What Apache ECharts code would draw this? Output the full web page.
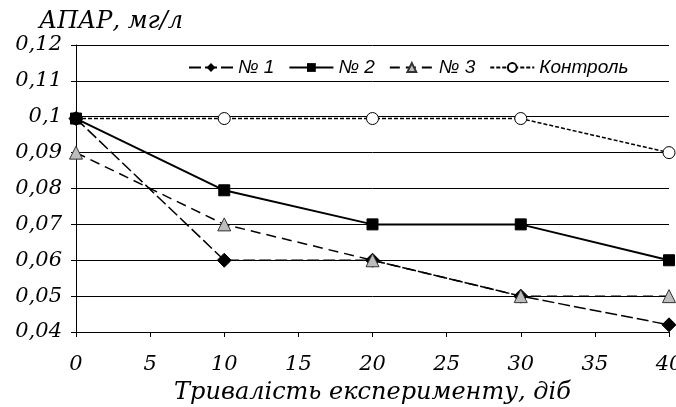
<!DOCTYPE html>
<html><head><meta charset="utf-8">
<script src="https://cdn.jsdelivr.net/npm/echarts@6/dist/echarts.min.js"></script>
<style>html,body{margin:0;padding:0;background:#fff}#c{width:676px;height:407px}</style>
</head><body><div id="c"></div>
<script>
const days = [0, 10, 20, 30, 40];
const names = ['№ 1', '№ 2', '№ 3', 'Контроль'];
const s1 = [0.0995, 0.06, 0.06, 0.05, 0.042];
const s2 = [0.0995, 0.0795, 0.07, 0.07, 0.06];
const s3 = [0.09, 0.07, 0.06, 0.05, 0.05];
const sc = [0.0995, 0.0995, 0.0995, 0.0995, 0.09];
const yTitle = 'АПАР, мг/л';
const xTitle = 'Тривалість експерименту, дiб';

const pairs = a => days.map((d, i) => [d, a[i]]);
const serif = 'DejaVu Serif';
const chart = echarts.init(document.getElementById('c'));
chart.setOption({
  animation: false,
  backgroundColor: '#fff',
  grid: { left: 76, right: 7, top: 45, bottom: 75, outerBoundsMode: 'none', containLabel: false },
  legend: {
    data: names, left: 183, top: 53, itemWidth: 44, itemHeight: 11, itemGap: 14,
    textStyle: { fontFamily: 'Liberation Sans', fontStyle: 'italic', fontSize: 19, color: '#000' }
  },
  xAxis: {
    type: 'value', min: 0, max: 40, interval: 5,
    name: xTitle, nameLocation: 'middle', nameGap: 49,
    nameTextStyle: { fontFamily: serif, fontStyle: 'italic', fontSize: 24, color: '#000' },
    axisLine: { lineStyle: { color: '#000', width: 1 } },
    axisTick: { show: true, length: 5, lineStyle: { color: '#000' } },
    axisLabel: { fontFamily: serif, fontStyle: 'italic', fontSize: 21, color: '#000', margin: 22 },
    splitLine: { show: false }
  },
  yAxis: {
    type: 'value', min: 0.04, max: 0.12, interval: 0.01,
    name: yTitle, nameLocation: 'end', nameGap: 11,
    nameTextStyle: { fontFamily: serif, fontStyle: 'italic', fontSize: 24, color: '#000', align: 'left', padding: [0, 0, 0, -37] },
    axisLine: { show: true, lineStyle: { color: '#000', width: 1 } },
    axisTick: { show: true, length: 5, lineStyle: { color: '#000' } },
    axisLabel: { fontFamily: serif, fontStyle: 'italic', fontSize: 21, color: '#000', margin: 14,
      formatter: v => String(Math.round(v * 100) / 100).replace('.', ',') },
    splitLine: { show: true, lineStyle: { color: '#000', width: 1 } }
  },
  series: [
    { name: names[3], type: 'line', data: pairs(sc), symbol: 'circle', symbolSize: 12,
      lineStyle: { color: '#000', width: 1.5, type: [4, 2] },
      itemStyle: { color: '#fff', borderColor: '#000', borderWidth: 1 } },
    { name: names[0], type: 'line', data: pairs(s1), symbol: 'diamond', symbolSize: 14,
      lineStyle: { color: '#000', width: 1.5, type: [12, 4] },
      itemStyle: { color: '#000', borderColor: '#000' } },
    { name: names[2], type: 'line', data: pairs(s3), symbol: 'triangle', symbolSize: 13,
      lineStyle: { color: '#000', width: 1.5, type: [10, 6] },
      itemStyle: { color: '#bdbdbd', borderColor: '#333', borderWidth: 1 } },
    { name: names[1], type: 'line', data: pairs(s2), symbol: 'rect', symbolSize: 11,
      lineStyle: { color: '#000', width: 2 },
      itemStyle: { color: '#000', borderColor: '#000' } }
  ]
});
</script></body></html>
